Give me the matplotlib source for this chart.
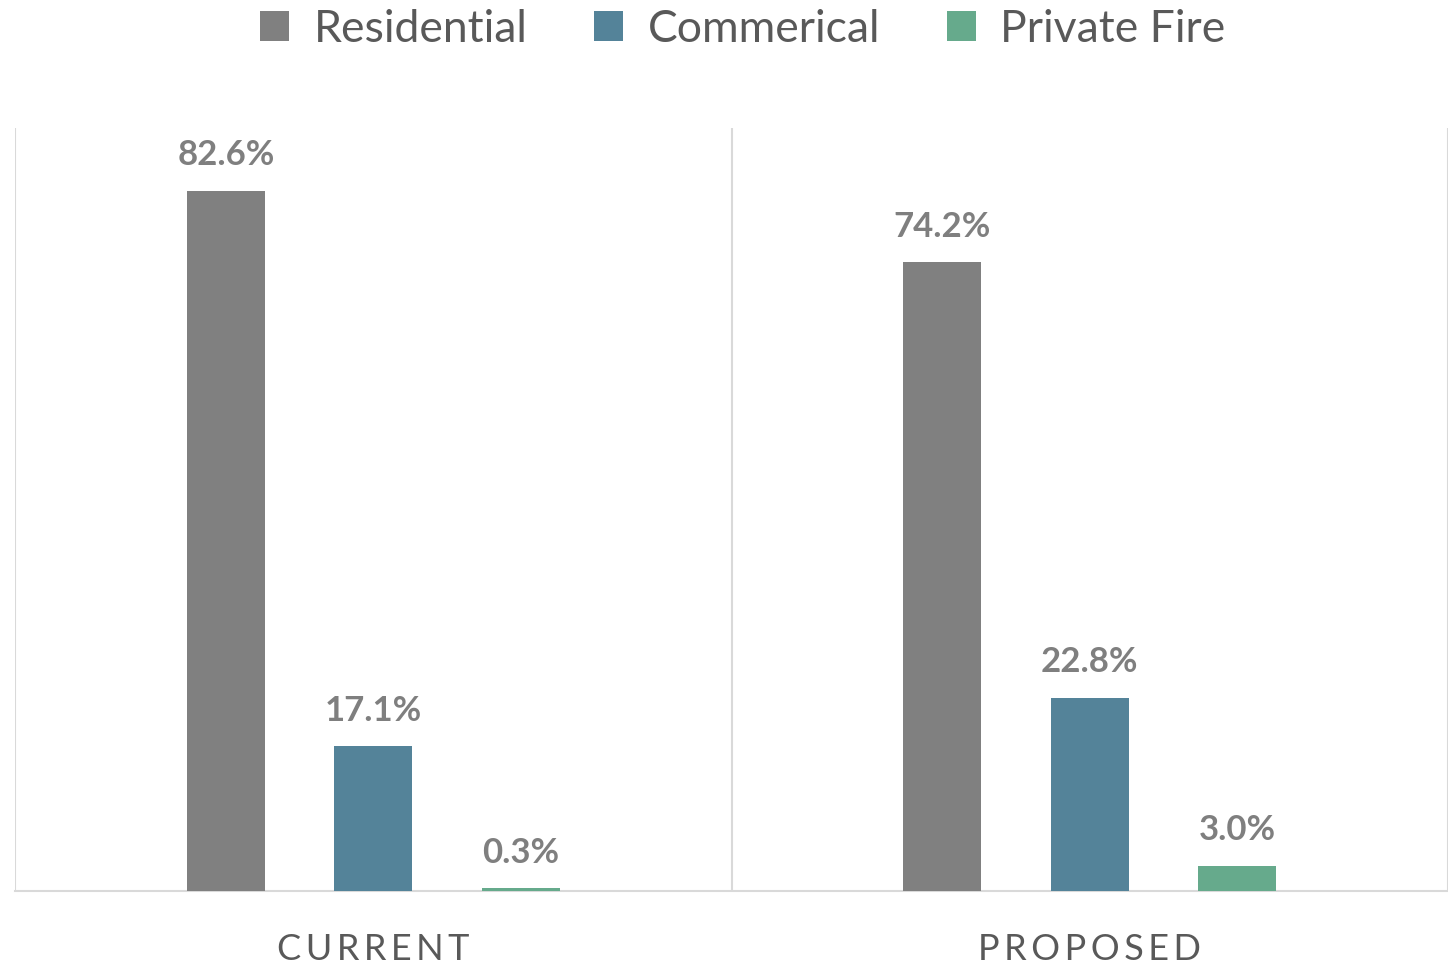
import matplotlib
matplotlib.use("Agg")
import matplotlib.pyplot as plt
import numpy as np

categories = ["CURRENT", "PROPOSED"]
series = ["Residential", "Commerical", "Private Fire"]
residential = [82.6, 74.2]
commercial = [17.1, 22.8]
private_fire = [0.3, 3.0]
labels_res = ["82.6%", "74.2%"]
labels_com = ["17.1%", "22.8%"]
labels_pf = ["0.3%", "3.0%"]

colors = ["#808080", "#548399", "#66AA8C"]

fig = plt.figure(figsize=(14.48, 9.73), dpi=100)
ax = fig.add_axes([15/1448, 82/973, 1433/1448, 763/973])

x = np.arange(len(categories))
width = 0.109
offset = 0.2056
data = [residential, commercial, private_fire]
labs = [labels_res, labels_com, labels_pf]
fam = ["Lato", "DejaVu Sans"]
for i, (vals, lab) in enumerate(zip(data, labs)):
    bars = ax.bar(x + (i - 1) * offset, vals, width, color=colors[i], label=series[i], zorder=3)
    for b, t in zip(bars, lab):
        ax.annotate(t, (b.get_x() + b.get_width() / 2, b.get_height()),
                    xytext=(0, 14), textcoords="offset points", ha="center", va="bottom",
                    fontsize=25, fontweight="bold", color="#7f7f7f", family=fam)

ax.set_xlim(-0.5, 1.5)
ax.set_ylim(0, 90)
ax.set_yticks([])
ax.set_xticks([])
for s in ["top", "left", "right"]:
    ax.spines[s].set_visible(False)
ax.spines["bottom"].set_color("#d9d9d9")
ax.spines["bottom"].set_linewidth(1.5)
for xv in [-0.5, 0.5, 1.5]:
    ax.axvline(xv, color="#d9d9d9", lw=1.5, zorder=1)

for xi, c in zip(x, categories):
    ax.text(xi, -6.9, "\u2009".join(c), ha="center", va="center", fontsize=26,
            color="#595959", family=fam, transform=ax.transData)

leg = fig.legend(loc="upper center", bbox_to_anchor=(0.513, 1.032), ncol=3, frameon=False,
                 prop={"family": fam, "size": 32}, handlelength=0.65, handleheight=0.65,
                 columnspacing=1.5, handletextpad=0.55)
for t in leg.get_texts():
    t.set_color("#595959")

fig.savefig("out.png", dpi=100, facecolor="white")
